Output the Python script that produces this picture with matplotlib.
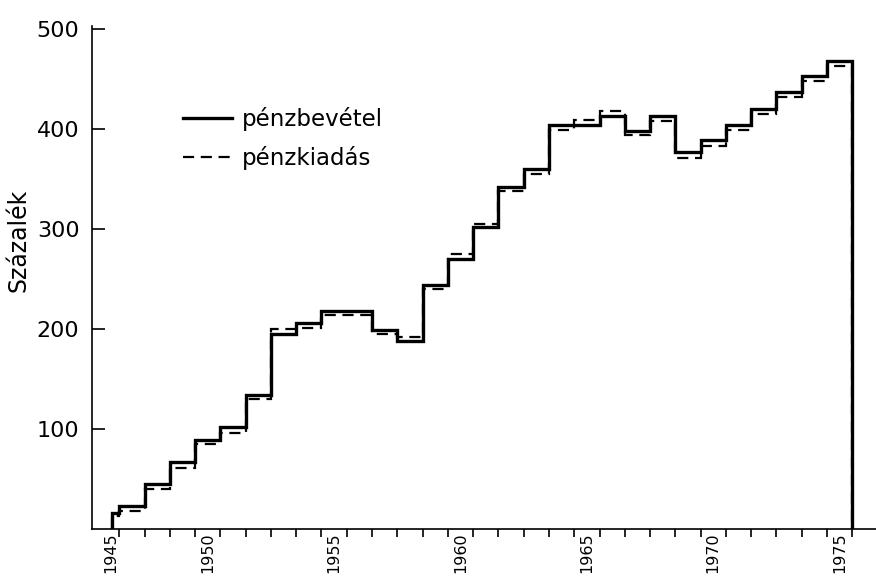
import matplotlib
matplotlib.use("Agg")
import matplotlib.pyplot as plt
import numpy as np
from matplotlib.ticker import FixedLocator

# ---- data ----
# step edges (year boundaries); first interval is a partial one
edges = [1946.72] + list(range(1947, 1977))
bevetel = [16, 22.5, 45, 67, 89, 102, 133.5, 195, 206, 218, 218, 199, 188, 244,
           270, 302, 342, 360, 404, 404, 413, 398, 413, 377, 389, 404, 420, 437,
           453, 468]
kiadas = [13, 17.5, 40, 61, 84.5, 96, 129.5, 200, 201, 214, 214, 194.5, 192,
          239.5, 275, 304.5, 337.5, 354.5, 398.5, 409, 418, 394, 408, 371, 383,
          398.5, 415, 432, 448, 462.5]
xlabels = ["1945", "1950", "1955", "1960", "1965", "1970", "1975"]
xlabel_pos = [1946.65, 1950.5, 1955.5, 1960.5, 1965.5, 1970.5, 1975.5]
yticks = [100, 200, 300, 400, 500]

fig = plt.figure(figsize=(8.76, 5.77), dpi=100)
ax = fig.add_axes([92/876, 1-528.5/577, 1-92/876, (528.5-26)/577])

ax.stairs(bevetel, edges, baseline=0, color="black", lw=2.4,
          label="pénzbevétel")
ax.stairs(kiadas, edges, baseline=0, color="black", lw=1.6,
          linestyle=(0, (5, 3)), label="pénzkiadás")

ax.set_xlim(1945.92, 1976.94)
ax.set_ylim(0, 502.5)

ax.spines["top"].set_visible(False)
ax.spines["right"].set_visible(False)
ax.spines["left"].set_linewidth(1.2)
ax.spines["bottom"].set_linewidth(1.2)

ax.set_xticks(xlabel_pos)
ax.set_xticklabels(xlabels, rotation=90, fontsize=11.5)
ax.xaxis.set_minor_locator(FixedLocator(list(range(1947, 1977))))
ax.tick_params(axis="x", which="major", length=0, pad=3)
ax.tick_params(axis="x", which="minor", length=6, width=1.2, direction="out")

ax.set_yticks(yticks)
ax.set_yticklabels([str(v) for v in yticks], fontsize=16)
ax.tick_params(axis="y", which="major", length=9, width=1.2, direction="in", pad=9)

ax.set_ylabel("Százalék", fontsize=17)
ax.yaxis.set_label_coords(-0.079, 0.574)

leg = ax.legend(loc="upper left", bbox_to_anchor=(0.116, 0.838), frameon=False,
                fontsize=16.5, handlelength=2.15, handletextpad=0.4,
                labelspacing=0.65, borderpad=0, borderaxespad=0)

fig.savefig("out.png", dpi=100)
